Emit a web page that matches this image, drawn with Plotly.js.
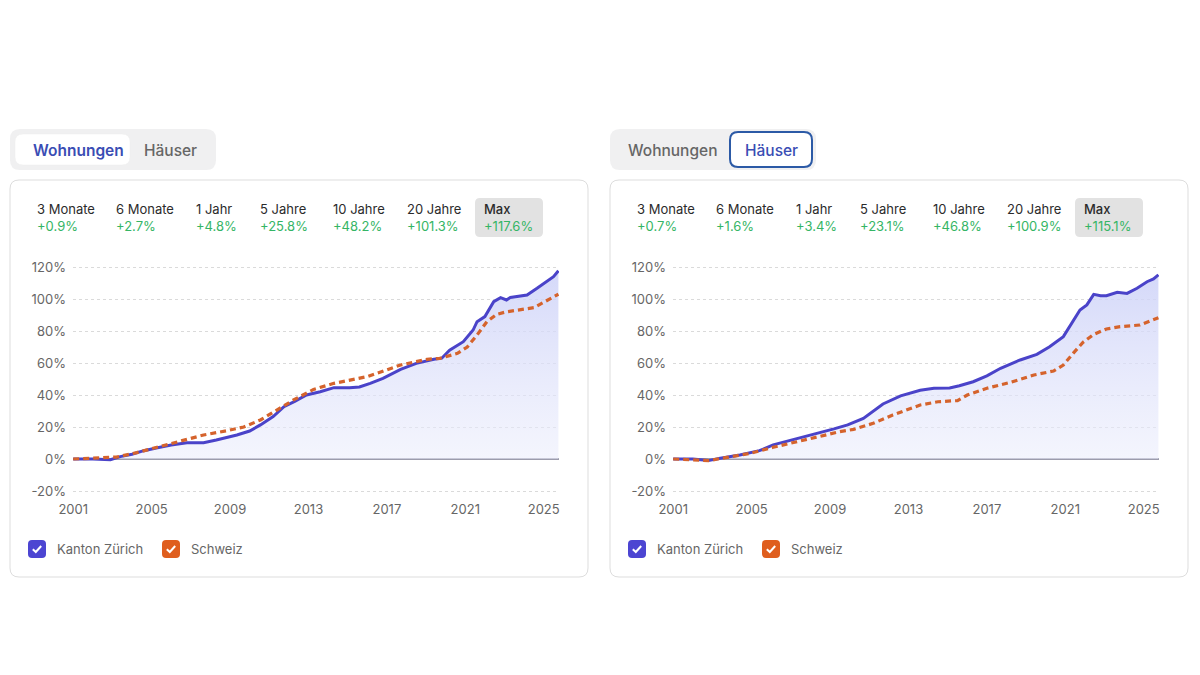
<!DOCTYPE html>
<html>
<head>
<meta charset="utf-8">
<script src="https://cdn.plot.ly/plotly-3.0.1.min.js"></script>
<style>
  html, body { margin: 0; padding: 0; background: #ffffff; }
  #chart { width: 1200px; height: 675px; }
</style>
</head>
<body>
<div id="chart"></div>
<script>
// ---------------- DATA ----------------
const periods = ['3 Monate', '6 Monate', '1 Jahr', '5 Jahre', '10 Jahre', '20 Jahre', 'Max'];
const wohnungenChanges = [0.9, 2.7, 4.8, 25.8, 48.2, 101.3, 117.6];
const haeuserChanges   = [0.7, 1.6, 3.4, 23.1, 46.8, 100.9, 115.1];

const tabLabels = ['Wohnungen', 'Häuser'];
const seriesNames = ['Kanton Zürich', 'Schweiz'];

const yearTicks = [2001, 2005, 2009, 2013, 2017, 2021, 2025];
const yearTickText = ['2001', '2005', '2009', '2013', '2017', '2021', '2025'];
const pctTicks = [-20, 0, 20, 40, 60, 80, 100, 120];
const pctTickText = ['-20%', '0%', '20%', '40%', '60%', '80%', '100%', '120%'];

// Wohnungen – Kanton Zürich
const wohnZhX = [2001.0, 2002.0, 2002.9, 2003.4, 2004.0, 2004.6, 2005.3, 2006.0, 2006.8, 2007.65, 2008.3, 2009.35, 2010.0, 2010.55, 2011.2, 2011.75, 2012.3, 2012.9, 2013.6, 2014.3, 2015.1, 2015.6, 2016.15, 2016.8, 2017.7, 2018.5, 2019.4, 2019.8, 2020.2, 2020.9, 2021.4, 2021.6, 2022.0, 2022.45, 2022.8, 2023.1, 2023.3, 2023.65, 2024.15, 2024.66, 2025.17, 2025.5, 2025.75];
const wohnZhY = [0, 0, -0.5, 1.5, 3, 5.2, 7, 8.8, 10.2, 10.2, 11.9, 15, 17.5, 21.3, 26.5, 32.7, 36, 40, 42, 44.6, 44.6, 45, 47.3, 50.4, 56, 59.8, 62.3, 63, 68, 73.3, 80.6, 85.8, 89, 98.3, 100.8, 99.4, 101, 101.5, 102.5, 106.7, 110.8, 114, 117.6];
// Wohnungen – Schweiz
const wohnChX = [2001, 2002.5, 2003.2, 2004.25, 2005.4, 2006.6, 2007.65, 2008.85, 2009.7, 2010.55, 2011.4, 2012.24, 2013.26, 2014.3, 2015.0, 2016.0, 2017.7, 2019.05, 2019.7, 2020.6, 2021.1, 2021.6, 2022.1, 2022.6, 2023.1, 2024.5, 2025.75];
const wohnChY = [0, 0.6, 1.2, 4, 7.7, 11.2, 15, 17.7, 20, 24.4, 30.6, 36.9, 43.5, 47.3, 49, 51.5, 58.75, 62.3, 62.9, 66, 70, 77.5, 85.8, 90.4, 92, 94.6, 103];

// Häuser – Kanton Zürich
const hausZhX = [2001, 2002, 2002.8, 2003.4, 2004.4, 2005.4, 2006.1, 2007.1, 2007.8, 2008.5, 2009.2, 2009.9, 2010.7, 2011.7, 2012.6, 2013.6, 2014.3, 2015.1, 2015.6, 2016.3, 2017.0, 2017.7, 2018.7, 2019.55, 2020.2, 2020.9, 2021.4, 2021.75, 2022.1, 2022.45, 2022.8, 2023.1, 2023.65, 2024.15, 2024.66, 2025.17, 2025.5, 2025.75];
const hausZhY = [0, 0, -1, 0.5, 2.5, 5.2, 8.8, 11.9, 14.4, 16.3, 18.8, 21.3, 25.4, 34.4, 39.5, 43, 44.2, 44.4, 45.8, 48.3, 52, 56.7, 61.9, 65.4, 70.2, 76.5, 85.8, 93.1, 96.3, 102.9, 102, 102, 104.2, 103.5, 106.7, 110.8, 112.5, 115.1];
// Häuser – Schweiz
const hausChX = [2001, 2002, 2002.8, 2003.75, 2004.9, 2006.1, 2007.3, 2008.3, 2009.5, 2010.2, 2011.2, 2012.2, 2013.6, 2014.5, 2015.5, 2016.0, 2017.0, 2018.2, 2019.4, 2020.4, 2020.9, 2021.4, 2021.9, 2022.45, 2023.1, 2023.8, 2024.8, 2025.75];
const hausChY = [0, -0.5, -1, 1, 3.5, 7.3, 10.8, 14, 17.1, 18.5, 22.3, 27.5, 33.75, 35.8, 36.5, 40, 44.2, 47.9, 52.5, 55, 58.75, 66, 72.9, 77.9, 81.25, 82.7, 83.75, 88.3];

// ---------------- STYLE / HELPERS ----------------
const W = 1200, H = 675;
const FONT = "Inter, 'Noto Sans', 'DejaVu Sans', sans-serif";
const BLUE = '#4a43c9';
const ORANGE = '#d5632c';
const GREEN = '#35b565';
const px = x => x / W;
const py = y => 1 - y / H;

function roundRect(x0, y0, x1, y1, r) {
  const rx = r / W, ry = r / H;
  const X0 = px(x0), X1 = px(x1), Y0 = py(y0), Y1 = py(y1);
  return `M ${X0 + rx},${Y0} L ${X1 - rx},${Y0} Q ${X1},${Y0} ${X1},${Y0 - ry} ` +
         `L ${X1},${Y1 + ry} Q ${X1},${Y1} ${X1 - rx},${Y1} ` +
         `L ${X0 + rx},${Y1} Q ${X0},${Y1} ${X0},${Y1 + ry} ` +
         `L ${X0},${Y0 - ry} Q ${X0},${Y0} ${X0 + rx},${Y0} Z`;
}
function rrShape(x0, y0, x1, y1, r, fill, lineColor, lineWidth) {
  return {
    type: 'path', xref: 'paper', yref: 'paper', layer: 'below',
    path: roundRect(x0, y0, x1, y1, r),
    fillcolor: fill,
    line: { color: lineColor || 'rgba(0,0,0,0)', width: lineWidth || 0 }
  };
}
function checkShape(x0, y0) {
  const p = `M ${px(x0 + 4.8)},${py(y0 + 9.2)} L ${px(x0 + 7.8)},${py(y0 + 12)} L ${px(x0 + 13.2)},${py(y0 + 6)}`;
  return { type: 'path', xref: 'paper', yref: 'paper', layer: 'above', path: p,
           line: { color: '#ffffff', width: 2 } };
}
function txt(x, y, text, opts) {
  opts = opts || {};
  return {
    xref: 'paper', yref: 'paper', x: px(x), y: py(y), text: text, showarrow: false,
    xanchor: opts.xanchor || 'left', yanchor: 'middle',
    font: { family: FONT, size: opts.size || 13, color: opts.color || '#333333', weight: opts.weight || 400 }
  };
}
const fmt = v => '+' + v.toFixed(1) + '%';

const shapes = [];
const annotations = [];

const statX = [35, 114, 194, 258, 331, 405, 482];

function panel(ox, activeIdx, changes) {
  shapes.push(rrShape(10 + ox, 129, 216 + ox, 170, 10, '#f0f0f1'));
  if (activeIdx === 0) {
    shapes.push(rrShape(15 + ox, 134, 130 + ox, 165, 8, '#ffffff', '#ececec', 0.5));
    annotations.push(txt(78 + ox, 150, tabLabels[0], { xanchor: 'center', size: 15.5, color: '#3a4db4', weight: 600 }));
    annotations.push(txt(171 + ox, 150, tabLabels[1], { xanchor: 'center', size: 15.5, color: '#666666', weight: 500 }));
  } else {
    shapes.push(rrShape(130 + ox, 132, 212 + ox, 167, 8, '#ffffff', '#2c5aa6', 2));
    annotations.push(txt(72 + ox, 150, tabLabels[0], { xanchor: 'center', size: 15.5, color: '#666666', weight: 500 }));
    annotations.push(txt(171 + ox, 150, tabLabels[1], { xanchor: 'center', size: 15.5, color: '#3a4db4', weight: 500 }));
  }
  shapes.push(rrShape(10 + ox, 180, 588 + ox, 577, 9, '#ffffff', '#dddddd', 1));
  shapes.push(rrShape(475 + ox, 198, 543 + ox, 237, 5, '#e2e2e2'));
  for (let i = 0; i < periods.length; i++) {
    const isMax = i === periods.length - 1;
    annotations.push(txt(statX[i] + ox, 209, periods[i], { size: 13, color: '#2b2b2b', weight: isMax ? 500 : 400 }));
    annotations.push(txt(statX[i] + ox, 226, fmt(changes[i]), { size: 13, color: GREEN }));
  }
  shapes.push(rrShape(28 + ox, 540, 46 + ox, 558, 4, '#4c45d2'));
  shapes.push(checkShape(28 + ox, 540));
  annotations.push(txt(55 + ox, 549, seriesNames[0], { size: 13, color: '#666666' }));
  shapes.push(rrShape(162 + ox, 540, 180 + ox, 558, 4, '#df5e1e'));
  shapes.push(checkShape(162 + ox, 540));
  annotations.push(txt(189 + ox, 549, seriesNames[1], { size: 13, color: '#666666' }));
}
panel(0, 0, wohnungenChanges);
panel(600, 1, haeuserChanges);

// ---------------- TRACES ----------------
function fillTrace(x, y, xa, ya, name) {
  return {
    type: 'scatter', mode: 'lines', x: x, y: y, xaxis: xa, yaxis: ya, name: name,
    line: { color: BLUE, width: 3 },
    fill: 'tozeroy',
    fillgradient: { type: 'vertical', colorscale: [[0, 'rgba(235,237,252,0.55)'], [1, 'rgba(205,210,248,0.85)']] },
    hoverinfo: 'skip', showlegend: false
  };
}
function dashTrace(x, y, xa, ya, name) {
  return {
    type: 'scatter', mode: 'lines', x: x, y: y, xaxis: xa, yaxis: ya, name: name,
    line: { color: ORANGE, width: 3.2, dash: '6px,4px' },
    hoverinfo: 'skip', showlegend: false
  };
}
const traces = [
  fillTrace(wohnZhX, wohnZhY, 'x', 'y', seriesNames[0]),
  dashTrace(wohnChX, wohnChY, 'x', 'y', seriesNames[1]),
  fillTrace(hausZhX, hausZhY, 'x2', 'y2', seriesNames[0]),
  dashTrace(hausChX, hausChY, 'x2', 'y2', seriesNames[1])
];

// ---------------- AXES ----------------
const yDomain = [1 - 492.6 / H, 1 - 265.4 / H];
function xAxis(d0, d1, anchor) {
  return {
    domain: [d0 / W, d1 / W], range: [2000.99, 2025.78], anchor: anchor,
    tickmode: 'array', tickvals: yearTicks, ticktext: yearTickText,
    showgrid: false, zeroline: false, showline: false, ticks: '',
    tickfont: { family: FONT, size: 13, color: '#666666' }, ticklabelstandoff: 7,
    fixedrange: true
  };
}
function yAxis(anchor) {
  return {
    domain: yDomain, range: [-21, 121], anchor: anchor,
    tickmode: 'array', tickvals: pctTicks, ticktext: pctTickText,
    showgrid: true, gridcolor: '#dadada', gridwidth: 1, griddash: '3px,3px',
    zeroline: true, zerolinecolor: '#9c9cac', zerolinewidth: 1.5,
    showline: false, ticks: '',
    tickfont: { family: FONT, size: 13, color: '#666666' }, ticklabelstandoff: 6,
    fixedrange: true
  };
}

const layout = {
  width: W, height: H,
  margin: { l: 0, r: 0, t: 0, b: 0 },
  paper_bgcolor: '#ffffff', plot_bgcolor: 'rgba(0,0,0,0)',
  showlegend: false,
  font: { family: FONT },
  xaxis: xAxis(73, 559, 'y'),
  yaxis: yAxis('x'),
  xaxis2: xAxis(673, 1159, 'y2'),
  yaxis2: yAxis('x2'),
  shapes: shapes,
  annotations: annotations
};

Plotly.newPlot('chart', traces, layout, { displayModeBar: false, staticPlot: true });
</script>
</body>
</html>
